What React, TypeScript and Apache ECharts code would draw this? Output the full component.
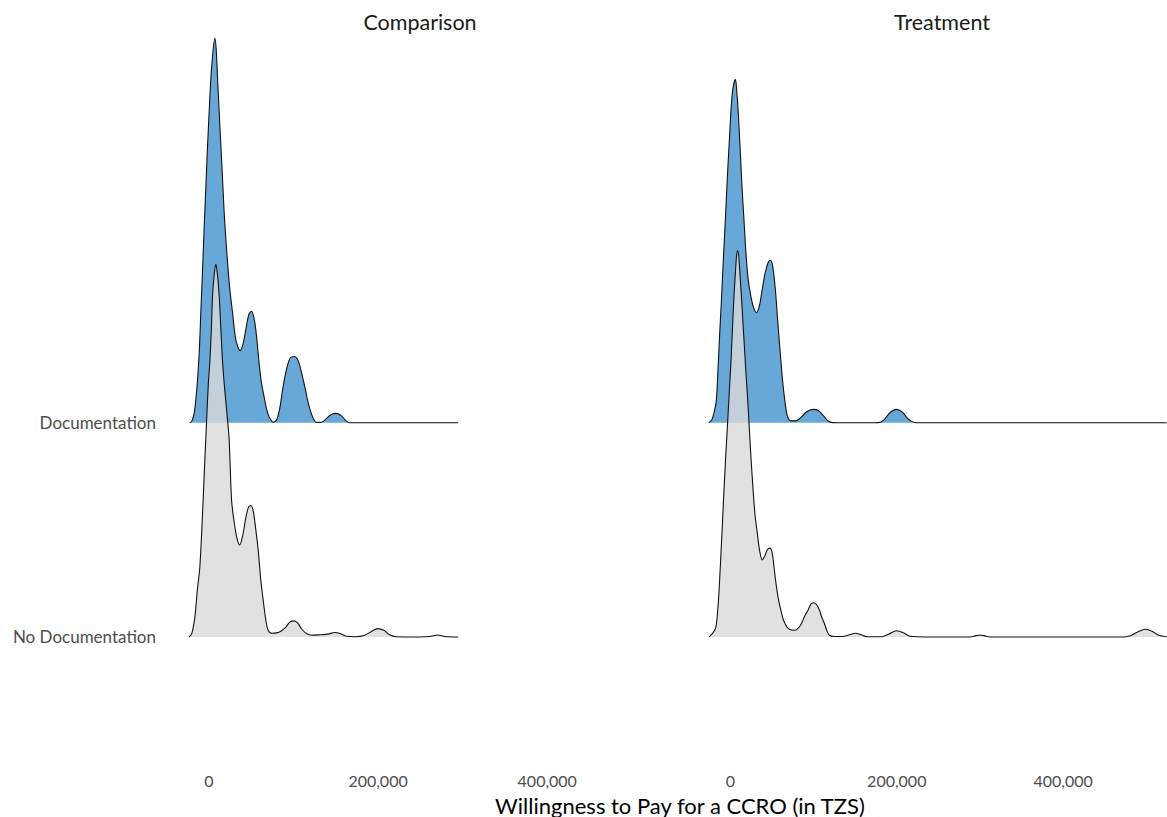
import React, { useEffect, useRef } from "react";
import * as echarts from "echarts";

// x in thousands of TZS, h = ridge height (in units of ridge spacing)
const facets = ["Comparison", "Treatment"];
const groups = ["No Documentation", "Documentation"];
const xTicks = [0, 200000, 400000];

const compDoc: [number, number][] = [
  [-22.5, 0], [-20.1, 0.008], [-17.4, 0.044], [-15.4, 0.107], [-13.4, 0.2], [-11.2, 0.341], [-9.5, 0.515],
  [-7.4, 0.717], [-5.6, 0.905], [-3.5, 1.102], [-1.5, 1.296], [0.4, 1.454], [2.4, 1.609], [4.7, 1.726],
  [7.1, 1.797], [8.6, 1.75], [10.3, 1.609], [12.2, 1.454], [14.2, 1.296], [16.2, 1.139], [18.1, 0.985],
  [20.1, 0.858], [22.1, 0.75], [24.8, 0.623], [28.0, 0.515], [31.9, 0.388], [37.0, 0.337], [40.2, 0.365],
  [43.7, 0.435], [47.3, 0.506], [50.5, 0.521], [53.2, 0.492], [55.5, 0.435], [57.9, 0.341], [59.4, 0.279],
  [62.0, 0.191], [65.3, 0.122], [68.5, 0.06], [71.2, 0.028], [76.0, 0.003], [80.0, 0.013], [83.9, 0.069],
  [87.8, 0.169], [92.2, 0.257], [96.3, 0.304], [100.8, 0.31], [105.2, 0.294], [109.3, 0.238], [113.4, 0.169],
  [118.1, 0.083], [123.2, 0.022], [127.3, 0.002], [133.5, 0.003], [138.2, 0.017], [144.2, 0.038],
  [150.9, 0.044], [157.2, 0.031], [161.9, 0.01], [166.6, 0], [225.7, 0], [294.6, 0],
];

const compNoDoc: [number, number][] = [
  [-23.3, 0], [-20.1, 0.017], [-16.5, 0.094], [-13.6, 0.219], [-10.6, 0.329], [-6.7, 0.642], [-4.7, 0.83],
  [-2.7, 1.005], [-0.6, 1.182], [1.2, 1.285], [3.0, 1.44], [4.4, 1.596], [6.5, 1.698], [8.3, 1.74],
  [10.0, 1.698], [12.2, 1.596], [14.2, 1.44], [16.2, 1.285], [18.9, 1.149], [22.1, 1.014], [24.0, 0.923],
  [26.8, 0.642], [29.5, 0.548], [33.1, 0.463], [36.6, 0.43], [40.2, 0.477], [43.7, 0.557], [46.7, 0.604],
  [49.6, 0.614], [52.6, 0.585], [55.5, 0.501], [58.3, 0.407], [61.4, 0.266], [64.2, 0.173], [67.4, 0.078],
  [70.1, 0.031], [74.4, 0.017], [80.0, 0.019], [85.1, 0.027], [91.0, 0.046], [95.7, 0.069], [100.8, 0.075],
  [105.2, 0.064], [109.9, 0.036], [115.4, 0.016], [121.7, 0.008], [131.2, 0.01], [140.6, 0.013],
  [148.9, 0.021], [156.0, 0.015], [163.1, 0.003], [172.5, 0.001], [184.3, 0.008], [192.6, 0.027],
  [200.0, 0.039], [206.7, 0.031], [213.8, 0.01], [220.9, 0.001], [249.3, 0], [261.1, 0.002],
  [270.9, 0.009], [278.9, 0.002], [294.6, 0],
];

const treatDoc: [number, number][] = [
  [-26.0, 0], [-22.5, 0.013], [-18.9, 0.06], [-16.9, 0.107], [-15.0, 0.247], [-13.0, 0.411], [-11.0, 0.561],
  [-9.1, 0.717], [-7.1, 0.873], [-5.1, 1.031], [-3.2, 1.186], [-1.2, 1.327], [0.8, 1.468], [3.0, 1.562],
  [5.9, 1.604], [7.8, 1.539], [9.8, 1.421], [11.8, 1.266], [13.8, 1.108], [16.2, 0.952], [18.6, 0.795],
  [21.3, 0.67], [24.5, 0.592], [27.8, 0.539], [31.3, 0.514], [34.9, 0.548], [38.2, 0.623], [41.9, 0.703],
  [45.5, 0.75], [48.1, 0.759], [50.8, 0.731], [54.0, 0.623], [56.7, 0.482], [59.9, 0.326], [62.6, 0.2],
  [65.8, 0.091], [68.5, 0.031], [72.1, 0.01], [78.3, 0.009], [83.9, 0.022], [89.8, 0.046], [95.7, 0.06],
  [101.3, 0.063], [106.4, 0.055], [112.3, 0.031], [117.0, 0.01], [122.9, 0.001], [140.6, 0], [164.2, 0],
  [178.1, 0.001], [184.4, 0.013], [191.4, 0.046], [199.7, 0.063], [206.8, 0.05], [213.9, 0.017],
  [223.3, 0], [317.9, 0], [524.6, 0],
];

const treatNoDoc: [number, number][] = [
  [-25.6, 0], [-22.5, 0.013], [-18.9, 0.031], [-17.1, 0.055], [-14.8, 0.149], [-13.0, 0.266], [-10.6, 0.454],
  [-8.3, 0.642], [-5.9, 0.83], [-3.5, 0.994], [-1.2, 1.158], [0.8, 1.299], [2.4, 1.44], [4.1, 1.581],
  [5.9, 1.698], [7.3, 1.778], [8.6, 1.803], [10.0, 1.778], [11.8, 1.675], [13.8, 1.549], [16.2, 1.393],
  [18.6, 1.236], [20.7, 1.111], [22.5, 0.985], [24.8, 0.83], [27.2, 0.689], [29.5, 0.571], [32.3, 0.485],
  [34.9, 0.407], [38.2, 0.36], [41.4, 0.379], [44.3, 0.407], [47.3, 0.415], [50.2, 0.393], [53.2, 0.298],
  [55.5, 0.229], [57.9, 0.172], [60.9, 0.121], [63.8, 0.078], [69.7, 0.039], [77.6, 0.031], [81.5, 0.041],
  [85.4, 0.063], [89.2, 0.097], [93.3, 0.125], [96.9, 0.154], [100.4, 0.16], [103.9, 0.149], [107.1, 0.125],
  [109.8, 0.092], [113.0, 0.063], [115.8, 0.031], [119.0, 0.008], [124.9, 0.002], [134.7, 0.002],
  [143.0, 0.01], [150.4, 0.017], [157.2, 0.01], [164.2, 0.001], [181.9, 0.001], [190.2, 0.013],
  [199.7, 0.029], [207.9, 0.02], [216.2, 0.003], [235.1, 0], [288.3, 0], [295.4, 0.006], [300.1, 0.009],
  [304.9, 0.006], [312.0, 0], [471.5, 0], [480.9, 0.006], [489.2, 0.022], [499.0, 0.036], [506.9, 0.027],
  [515.2, 0.008], [524.6, 0.001],
];

const FONT = "Lato, 'Open Sans', sans-serif";
const X_MIN = -27000;
const X_MAX = 525000;
const Y_MIN = 0.5;
const Y_MAX = 3.9;
const BLUE = "#68a8d8";
const GRAY = "rgba(218,218,218,0.8)";

function ridge(name: string, pts: [number, number][], base: number, idx: number, fill: string) {
  return {
    type: "line",
    name,
    xAxisIndex: idx,
    yAxisIndex: idx,
    symbol: "none",
    smooth: 0.3,
    data: pts.map(([x, h]) => [x * 1000, base + h]),
    lineStyle: { color: "#111", width: 1.1 },
    areaStyle: { color: fill, opacity: 1, origin: base },
    silent: true,
  };
}

export default function App() {
  const ref = useRef<HTMLDivElement>(null);
  useEffect(() => {
    if (!ref.current) return;
    const chart = echarts.init(ref.current, undefined, { renderer: "svg" });
    const grids = [
      { left: 186, top: 16, width: 467, height: 728 },
      { left: 708, top: 16, width: 467, height: 728 },
    ];
    const xAxes = grids.map((_, i) => ({
      type: "value",
      gridIndex: i,
      min: X_MIN,
      max: X_MAX,
      splitNumber: 3,
      axisLine: { show: false },
      axisTick: { show: false },
      splitLine: { show: false },
      axisLabel: {
        show: true,
        margin: 28,
        fontSize: 16,
        fontFamily: FONT,
        color: "#4d4d4d",
        showMinLabel: false,
        showMaxLabel: false,
        formatter: (v: number) => (xTicks.includes(v) ? v.toLocaleString("en-US") : ""),
      },
    }));
    const yAxes = grids.map((_, i) => ({
      type: "value",
      gridIndex: i,
      min: Y_MIN,
      max: Y_MAX,
      interval: 0.5,
      axisLine: { show: false },
      axisTick: { show: false },
      splitLine: { show: false },
      axisLabel: {
        show: i === 0,
        margin: 30,
        fontSize: 17,
        fontFamily: FONT,
        color: "#4d4d4d",
        showMinLabel: false,
        showMaxLabel: false,
        formatter: (v: number) => {
          const k = Math.round(v);
          if (Math.abs(v - k) > 1e-6 || k < 1 || k > groups.length) return "";
          return groups[k - 1];
        },
      },
    }));
    chart.setOption({
      animation: false,
      backgroundColor: "#ffffff",
      grid: grids,
      xAxis: xAxes,
      yAxis: yAxes,
      series: [
        ridge("Comparison Documentation", compDoc, 2, 0, BLUE),
        ridge("Comparison No Documentation", compNoDoc, 1, 0, GRAY),
        ridge("Treatment Documentation", treatDoc, 2, 1, BLUE),
        ridge("Treatment No Documentation", treatNoDoc, 1, 1, GRAY),
      ],
      graphic: [
        {
          type: "text",
          x: 420,
          y: 22,
          style: { text: facets[0], align: "center", verticalAlign: "middle", fontSize: 21.5, fontFamily: FONT, fill: "#1a1a1a" },
        },
        {
          type: "text",
          x: 942,
          y: 22,
          style: { text: facets[1], align: "center", verticalAlign: "middle", fontSize: 21.5, fontFamily: FONT, fill: "#1a1a1a" },
        },
        {
          type: "text",
          x: 680,
          y: 805,
          style: {
            text: "Willingness to Pay for a CCRO (in TZS)",
            align: "center",
            verticalAlign: "middle",
            fontSize: 22,
            fontFamily: FONT,
            fill: "#000",
          },
        },
      ],
    });
    return () => chart.dispose();
  }, []);
  return <div ref={ref} style={{ position: "absolute", left: 0, top: 0, width: 1167, height: 817 }} />;
}
